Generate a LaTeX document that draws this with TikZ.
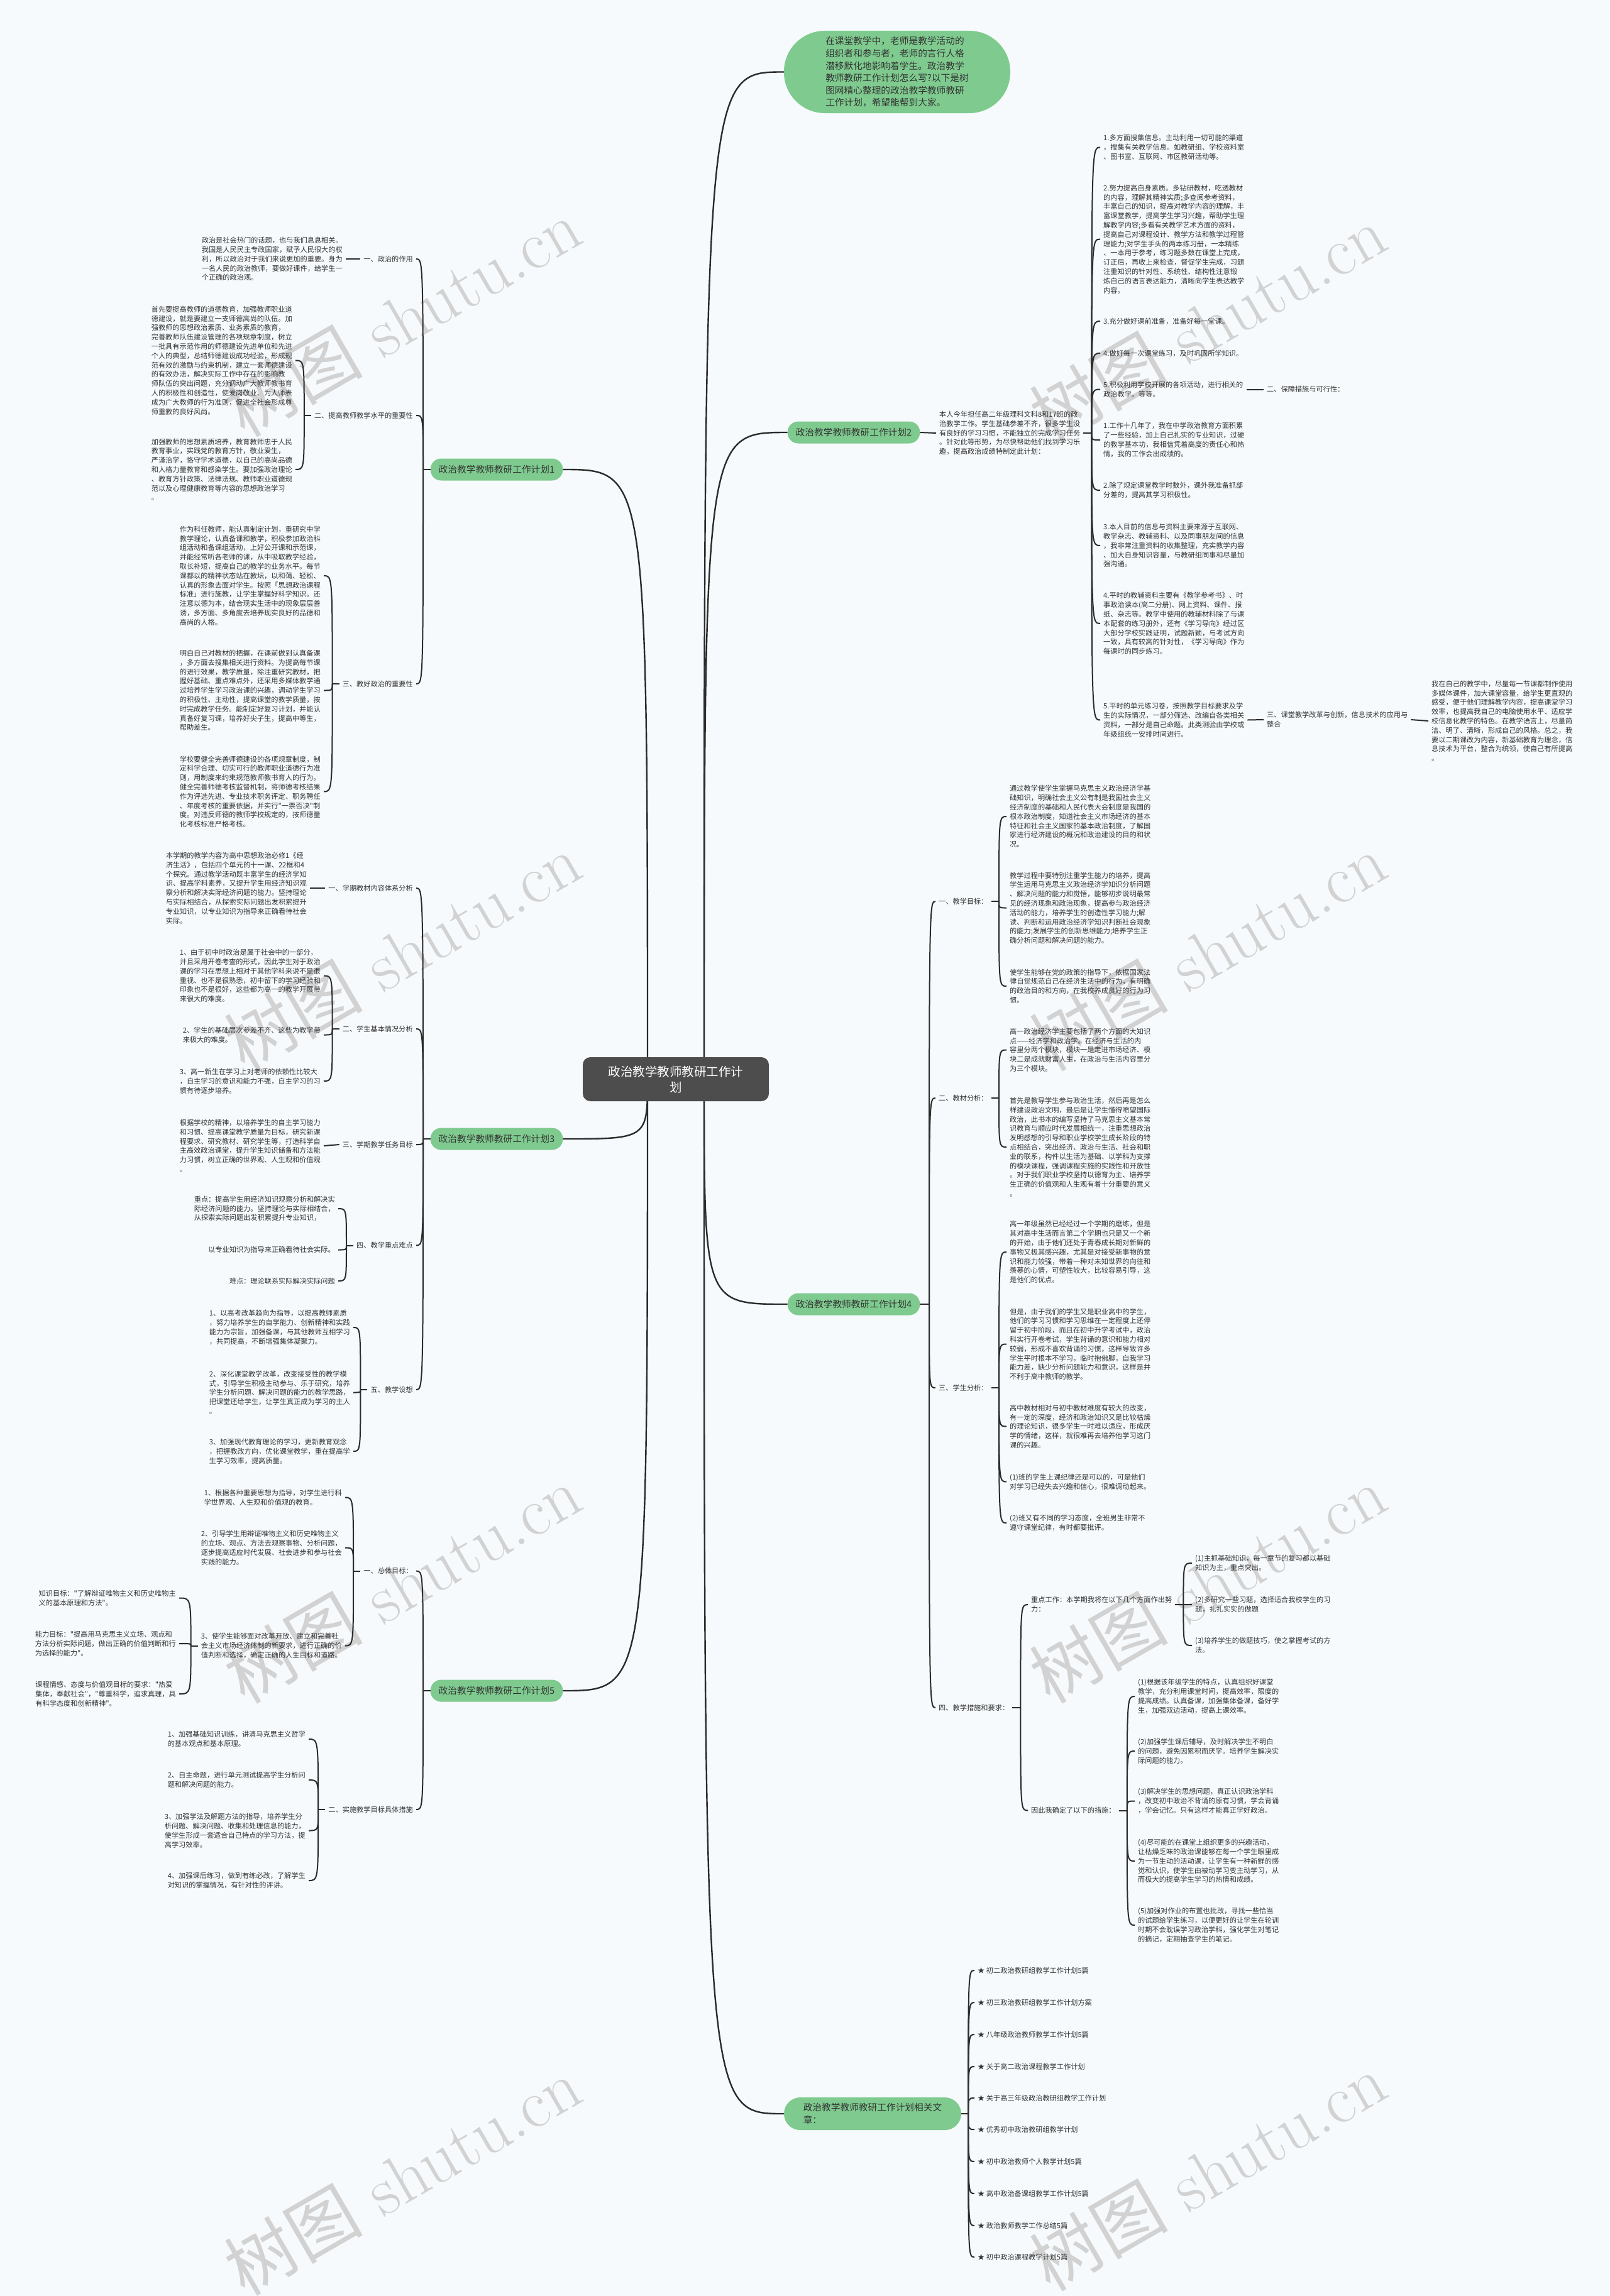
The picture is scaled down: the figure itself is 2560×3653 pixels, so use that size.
\documentclass[tikz,border=0pt]{standalone}
\usepackage{fontspec}
\newfontfamily\cjk{Noto Sans CJK SC}
\usetikzlibrary{calc}
\definecolor{bg}{HTML}{F6FAFD}
\definecolor{gr}{HTML}{7FCB8F}
\definecolor{lc}{HTML}{2B2B2B}
\definecolor{tc}{HTML}{333333}
\definecolor{rootc}{HTML}{4D4D4D}
\definecolor{wm}{HTML}{D2D2D2}
\begin{document}
\begin{tikzpicture}[x=1pt,y=-1pt,
  ln/.style={draw=lc,line width=2pt},
  rl/.style={draw=lc,line width=2.4pt},
  tx/.style={font=\cjk\fontsize{11.2}{14.8}\selectfont,text=tc,align=left,inner xsep=5pt,inner ysep=1pt},
  pl/.style={fill=gr,rounded corners=17pt,font=\cjk\fontsize{14.7}{19}\selectfont,text=tc,inner xsep=13pt,minimum height=35pt},
  wmk/.style={rotate=30,text=wm,font=\fontsize{110}{110}\selectfont}]
\useasboundingbox (0,0) rectangle (2560,3653);
\fill[bg] (0,0) rectangle (2560,3653);
% watermarks
\node[wmk] (wm1) at (640,505) {{\cjk 树图} shutu.cn};
\node[wmk] (wm2) at (1921,515) {{\cjk 树图} shutu.cn};
\node[wmk] (wm3) at (640,1514) {{\cjk 树图} shutu.cn};
\node[wmk] (wm4) at (1921,1514) {{\cjk 树图} shutu.cn};
\node[wmk] (wm5) at (640,2520) {{\cjk 树图} shutu.cn};
\node[wmk] (wm6) at (1921,2520) {{\cjk 树图} shutu.cn};
\node[wmk] (wm7) at (640,3462) {{\cjk 树图} shutu.cn};
\node[wmk] (wm8) at (1921,3455) {{\cjk 树图} shutu.cn};

% ---------- main branches ----------
\node[fill=gr,rounded corners=65pt,minimum width=360pt,minimum height=131pt,font=\cjk\fontsize{14.7}{19.6}\selectfont,align=left,text=tc] (b0) at (1427,114.5) {在课堂教学中，老师是教学活动的\\组织者和参与者，老师的言行人格\\潜移默化地影响着学生。政治教学\\教师教研工作计划怎么写?以下是树\\图网精心整理的政治教学教师教研\\工作计划，希望能帮到大家。};
\node[pl] (p1) at (790,747) {政治教学教师教研工作计划1};
\node[pl] (p3) at (790,1812) {政治教学教师教研工作计划3};
\node[pl] (p5) at (790,2690) {政治教学教师教研工作计划5};
\node[pl] (p2) at (1358,688) {政治教学教师教研工作计划2};
\node[pl] (p4) at (1358,2075) {政治教学教师教研工作计划4};
\node[fill=gr,rounded corners=26pt,minimum width=282pt,minimum height=52pt,font=\cjk\fontsize{14.7}{20}\selectfont,align=left,text=tc] (a0) at (1388,3363) {政治教学教师教研工作计划相关文\\章：};

\coordinate (RR) at (1120,1717);
\coordinate (RL) at (1030,1717);
\foreach \c in {b0,p2,p4,a0} \draw[rl] (RR) .. controls (RR |- \c.west) .. (\c.west);
\foreach \c in {p1,p3,p5} \draw[rl] (RL) .. controls (RL |- \c.east) .. (\c.east);
\node[fill=rootc,rounded corners=12pt,minimum width=296pt,minimum height=70pt,text=white,align=center,font=\cjk\fontsize{19.5}{25}\selectfont] (r) at (1075,1717) {政治教学教师教研工作计\\划};

% ---------- plan 1 ----------
\coordinate (J1) at (673,747);
\draw[ln] (p1.west) -- (J1);
\node[tx,anchor=east] (l11) at (662,412) {一、政治的作用};
\node[tx,anchor=east] (l12) at (662,661) {二、提高教师教学水平的重要性};
\node[tx,anchor=east] (l13) at (662,1088) {三、教好政治的重要性};
\foreach \c in {l11,l12,l13} \draw[ln] (J1) .. controls (J1 |- \c.east) .. (\c.east);

\node[tx,anchor=east] (q11) at (550,412) {政治是社会热门的话题，也与我们息息相关。\\我国是人民民主专政国家，赋予人民很大的权\\利，所以政治对于我们来说更加的重要。身为\\一名人民的政治教师，要做好课件，给学生一\\个正确的政治观。};
\draw[ln] (l11.west) -- (q11.east);

\node[tx,anchor=east] (q121) at (470,573.5) {首先要提高教师的道德教育，加强教师职业道\\德建设，就是要建立一支师德高尚的队伍。加\\强教师的思想政治素质、业务素质的教育，\\完善教师队伍建设管理的各项规章制度，树立\\一批具有示范作用的师德建设先进单位和先进\\个人的典型，总结师德建设成功经验，形成规\\范有效的激励与约束机制，建立一套师德建设\\的有效办法，解决实际工作中存在的影响教\\师队伍的突出问题，充分调动广大教师教书育\\人的积极性和创造性，使爱岗敬业、为人师表\\成为广大教师的行为准则，促进全社会形成尊\\师重教的良好风尚。};
\node[tx,anchor=east] (q122) at (470,747) {加强教师的思想素质培养，教育教师忠于人民\\教育事业，实践党的教育方针，敬业爱生，\\严谨治学，恪守学术道德，以自己的高尚品德\\和人格力量教育和感染学生。要加强政治理论\\、教育方针政策、法律法规、教师职业道德规\\范以及心理健康教育等内容的思想政治学习\\。};
\coordinate (J12) at ($(l12.west)+(-11,0)$);
\draw[ln] (l12.west) -- (J12);
\foreach \c in {q121,q122} \draw[ln] (J12) .. controls (J12 |- \c.east) .. (\c.east);

\node[tx,anchor=east] (q131) at (515,916) {作为科任教师，能认真制定计划，重研究中学\\教学理论，认真备课和教学，积极参加政治科\\组活动和备课组活动，上好公开课和示范课，\\并能经常听各老师的课，从中吸取教学经验，\\取长补短，提高自己的教学的业务水平。每节\\课都以的精神状态站在教坛，以和蔼、轻松、\\认真的形象去面对学生。按照「思想政治课程\\标准」进行施教，让学生掌握好科学知识。还\\注意以德为本，结合现实生活中的现象层层善\\诱，多方面、多角度去培养现实良好的品德和\\高尚的人格。};
\node[tx,anchor=east] (q132) at (515,1098.5) {明白自己对教材的把握，在课前做到认真备课\\，多方面去搜集相关进行资料。为提高每节课\\的进行效果，教学质量，除注重研究教材，把\\握好基础、重点难点外，还采用多媒体教学通\\过培养学生学习政治课的兴趣，调动学生学习\\的积极性、主动性，提高课堂的教学质量，按\\时完成教学任务。能制定好复习计划，并能认\\真备好复习课，培养好尖子生，提高中等生，\\帮助差生。};
\node[tx,anchor=east] (q133) at (515,1259.5) {学校要健全完善师德建设的各项规章制度，制\\定科学合理、切实可行的教师职业道德行为准\\则，用制度来约束规范教师教书育人的行为。\\健全完善师德考核监督机制，将师德考核结果\\作为评选先进、专业技术职务评定、职务聘任\\、年度考核的重要依据，并实行"一票否决"制\\度。对违反师德的教师学校规定的，按师德量\\化考核标准严格考核。};
\coordinate (J13) at ($(l13.west)+(-11,0)$);
\draw[ln] (l13.west) -- (J13);
\foreach \c in {q131,q132,q133} \draw[ln] (J13) .. controls (J13 |- \c.east) .. (\c.east);

% ---------- plan 3 ----------
\coordinate (J3) at (673,1812);
\draw[ln] (p3.west) -- (J3);
\node[tx,anchor=east] (l31) at (662,1413) {一、学期教材内容体系分析};
\node[tx,anchor=east] (l32) at (662,1637) {二、学生基本情况分析};
\node[tx,anchor=east] (l33) at (662,1821) {三、学期教学任务目标};
\node[tx,anchor=east] (l34) at (662,1981.5) {四、教学重点难点};
\node[tx,anchor=east] (l35) at (662,2211) {五、教学设想};
\foreach \c in {l31,l32,l33,l34,l35} \draw[ln] (J3) .. controls (J3 |- \c.east) .. (\c.east);

\node[tx,anchor=east] (q31) at (493,1413) {本学期的教学内容为高中思想政治必修1《经\\济生活》，包括四个单元的十一课、22框和4\\个探究。通过教学活动既丰富学生的经济学知\\识、提高学科素养，又提升学生用经济知识观\\察分析和解决实际经济问题的能力。坚持理论\\与实际相结合，从探索实际问题出发积累提升\\专业知识，以专业知识为指导来正确看待社会\\实际。};
\draw[ln] (l31.west) -- (q31.east);

\node[tx,anchor=east] (q321) at (515,1552.5) {1、由于初中时政治是属于社会中的一部分，\\并且采用开卷考查的形式，因此学生对于政治\\课的学习在思想上相对于其他学科来说不是很\\重视、也不是很熟悉，初中留下的学习经验和\\印象也不是很好，这些都为高一的教学开展带\\来很大的难度。};
\node[tx,anchor=east] (q322) at (515,1646.5) {2、学生的基础层次参差不齐、这些为教学带\\来极大的难度。};
\node[tx,anchor=east] (q323) at (515,1720) {3、高一新生在学习上对老师的依赖性比较大\\，自主学习的意识和能力不强，自主学习的习\\惯有待逐步培养。};
\coordinate (J32) at ($(l32.west)+(-11,0)$);
\draw[ln] (l32.west) -- (J32);
\foreach \c in {q321,q322,q323} \draw[ln] (J32) .. controls (J32 |- \c.east) .. (\c.east);

\node[tx,anchor=east] (q33) at (515,1823) {根据学校的精神，以培养学生的自主学习能力\\和习惯、提高课堂教学质量为目标，研究新课\\程要求、研究教材、研究学生等，打造科学自\\主高效政治课堂，提升学生知识储备和方法能\\力习惯，树立正确的世界观、人生观和价值观\\。};
\draw[ln] (l33.west) -- (q33.east);

\node[tx,anchor=east] (q341) at (538,1923) {重点：提高学生用经济知识观察分析和解决实\\际经济问题的能力。坚持理论与实际相结合，\\从探索实际问题出发积累提升专业知识，};
\node[tx,anchor=east] (q342) at (538,1988.5) {以专业知识为指导来正确看待社会实际。};
\node[tx,anchor=east] (q343) at (538,2038) {难点：理论联系实际解决实际问题};
\coordinate (J34) at ($(l34.west)+(-11,0)$);
\draw[ln] (l34.west) -- (J34);
\foreach \c in {q341,q342,q343} \draw[ln] (J34) .. controls (J34 |- \c.east) .. (\c.east);

\node[tx,anchor=east] (q351) at (562,2112) {1、以高考改革趋向为指导，以提高教师素质\\，努力培养学生的自学能力、创新精神和实践\\能力为宗旨，加强备课，与其他教师互相学习\\，共同提高，不断增强集体凝聚力。};
\node[tx,anchor=east] (q352) at (562,2215.5) {2、深化课堂教学改革，改变接受性的教学模\\式，引导学生积极主动参与、乐于研究，培养\\学生分析问题、解决问题的能力的教学思路，\\把课堂还给学生，让学生真正成为学习的主人\\。};
\node[tx,anchor=east] (q353) at (562,2309) {3、加强现代教育理论的学习，更新教育观念\\，把握教改方向，优化课堂教学，重在提高学\\生学习效率，提高质量。};
\coordinate (J35) at ($(l35.west)+(-11,0)$);
\draw[ln] (l35.west) -- (J35);
\foreach \c in {q351,q352,q353} \draw[ln] (J35) .. controls (J35 |- \c.east) .. (\c.east);

% ---------- plan 5 ----------
\coordinate (J5) at (673,2690);
\draw[ln] (p5.west) -- (J5);
\node[tx,anchor=east] (l51) at (662,2499.5) {一、总体目标：};
\node[tx,anchor=east] (l52) at (662,2879) {二、实施教学目标具体措施};
\foreach \c in {l51,l52} \draw[ln] (J5) .. controls (J5 |- \c.east) .. (\c.east);

\node[tx,anchor=east] (c1) at (549,2382.5) {1、根据各种重要思想为指导，对学生进行科\\学世界观、人生观和价值观的教育。};
\node[tx,anchor=east] (c2) at (549,2462.5) {2、引导学生用辩证唯物主义和历史唯物主义\\的立场、观点、方法去观察事物、分析问题，\\逐步提高适应时代发展、社会进步和参与社会\\实践的能力。};
\node[tx,anchor=east] (c3) at (549,2618.5) {3、使学生能够面对改革开放、建立和完善社\\会主义市场经济体制的新要求，进行正确的价\\值判断和选择，确定正确的人生目标和道路。};
\coordinate (J51) at ($(l51.west)+(-11,0)$);
\draw[ln] (l51.west) -- (J51);
\foreach \c in {c1,c2,c3} \draw[ln] (J51) .. controls (J51 |- \c.east) .. (\c.east);

\node[tx,anchor=east] (k1) at (285,2542.5) {知识目标："了解辩证唯物主义和历史唯物主\\义的基本原理和方法"。};
\node[tx,anchor=east] (k2) at (285,2615) {能力目标："提高用马克思主义立场、观点和\\方法分析实际问题，做出正确的价值判断和行\\为选择的能力"。};
\node[tx,anchor=east] (k3) at (285,2695) {课程情感、态度与价值观目标的要求："热爱\\集体，奉献社会"，"尊重科学，追求真理，具\\有科学态度和创新精神"。};
\coordinate (J53) at ($(c3.west)+(-11,0)$);
\draw[ln] (c3.west) -- (J53);
\foreach \c in {k1,k2,k3} \draw[ln] (J53) .. controls (J53 |- \c.east) .. (\c.east);

\node[tx,anchor=east] (n1) at (491,2767) {1、加强基础知识训练，讲清马克思主义哲学\\的基本观点和基本原理。};
\node[tx,anchor=east] (n2) at (491,2832) {2、自主命题，进行单元测试提高学生分析问\\题和解决问题的能力。};
\node[tx,anchor=east] (n3) at (491,2912.5) {3、加强学法及解题方法的指导，培养学生分\\析问题、解决问题、收集和处理信息的能力，\\使学生形成一套适合自己特点的学习方法，提\\高学习效率。};
\node[tx,anchor=east] (n4) at (491,2992) {4、加强课后练习，做到有练必改，了解学生\\对知识的掌握情况，有针对性的评讲。};
\coordinate (J52) at ($(l52.west)+(-11,0)$);
\draw[ln] (l52.west) -- (J52);
\foreach \c in {n1,n2,n3,n4} \draw[ln] (J52) .. controls (J52 |- \c.east) .. (\c.east);

% ---------- plan 2 ----------
\node[tx,anchor=west] (q2) at (1489,689) {本人今年担任高二年级理科文科8和17班的政\\治教学工作。学生基础参差不齐，很多学生没\\有良好的学习习惯，不能独立的完成学习任务\\。针对此等形势，为尽快帮助他们找到学习乐\\趣，提高政治成绩特制定此计划：};
\draw[ln] (p2.east) -- (q2.west);
\coordinate (J2) at ($(q2.east)+(13,0)$);
\draw[ln] (q2.east) -- (J2);
\node[tx,anchor=west] (a1) at (1750,234.5) {1.多方面搜集信息。主动利用一切可能的渠道\\，搜集有关教学信息。如教研组、学校资料室\\、图书室、互联网、市区教研活动等。};
\node[tx,anchor=west] (a2) at (1750,380.5) {2.努力提高自身素质。多钻研教材，吃透教材\\的内容，理解其精神实质;多查阅参考资料，\\丰富自己的知识，提高对教学内容的理解，丰\\富课堂教学，提高学生学习兴趣，帮助学生理\\解教学内容;多看有关教学艺术方面的资料，\\提高自己对课程设计、教学方法和教学过程管\\理能力;对学生手头的两本练习册，一本精练\\、一本用于参考，练习题多数在课堂上完成，\\订正后，再收上来检查，督促学生完成，习题\\注重知识的针对性、系统性、结构性注意锻\\炼自己的语言表达能力，清晰向学生表达教学\\内容。};
\node[tx,anchor=west] (a3) at (1750,511) {3.充分做好课前准备，准备好每一堂课。};
\node[tx,anchor=west] (a4) at (1750,562) {4.做好每一次课堂练习，及时巩固所学知识。};
\node[tx,anchor=west] (a5) at (1750,619.5) {5.积极利用学校开展的各项活动，进行相关的\\政治教学。等等。};
\node[tx,anchor=west] (b1) at (1750,700) {1.工作十几年了，我在中学政治教育方面积累\\了一些经验，加上自己扎实的专业知识，过硬\\的教学基本功，我相信凭着高度的责任心和热\\情，我的工作会出成绩的。};
\node[tx,anchor=west] (b2) at (1750,780) {2.除了规定课堂教学时数外，课外我准备抓部\\分差的，提高其学习积极性。};
\node[tx,anchor=west] (b3) at (1750,868) {3.本人目前的信息与资料主要来源于互联网、\\教学杂志、教辅资料、以及同事朋友间的信息\\，我非常注重资料的收集整理，充实教学内容\\、加大自身知识容量，与教研组同事和尽量加\\强沟通。};
\node[tx,anchor=west] (b4) at (1750,992) {4.平时的教辅资料主要有《教学参考书》、时\\事政治读本(高二分册)、网上资料、课件、报\\纸、杂志等。教学中使用的教辅材料除了与课\\本配套的练习册外，还有《学习导向》经过区\\大部分学校实践证明，试题新颖，与考试方向\\一致，具有较高的针对性，《学习导向》作为\\每课时的同步练习。};
\node[tx,anchor=west] (b5) at (1750,1145.5) {5.平时的单元练习卷，按照教学目标要求及学\\生的实际情况，一部分筛选、改编自各类相关\\资料，一部分是自己命题。此类测验由学校或\\年级组统一安排时间进行。};
\foreach \c in {a1,a2,a3,a4,a5,b1,b2,b3,b4,b5} \draw[ln] (J2) .. controls (J2 |- \c.west) .. (\c.west);
\node[tx,anchor=west] (g2) at (2010,619.5) {二、保障措施与可行性：};
\draw[ln] (a5.east) -- (g2.west);
\node[tx,anchor=west] (h2) at (2010,1145) {三、课堂教学改革与创新，信息技术的应用与\\整合};
\draw[ln] (b5.east) -- (h2.west);
\node[tx,anchor=west] (r2) at (2272,1147) {我在自己的教学中，尽量每一节课都制作使用\\多媒体课件，加大课堂容量，给学生更直观的\\感受，便于他们理解教学内容，提高课堂学习\\效率，也提高我自己的电脑使用水平、适应学\\校信息化教学的特色。在教学语言上，尽量简\\洁、明了、清晰，形成自己的风格。总之，我\\要以二期课改为内容，新基础教育为理念，信\\息技术为平台，整合为统领，使自己有所提高\\。};
\draw[ln] (h2.east) -- (r2.west);

% ---------- plan 4 ----------
\coordinate (J4) at (1478,2075);
\draw[ln] (p4.east) -- (J4);
\node[tx,anchor=west] (m1) at (1488,1434) {一、教学目标：};
\node[tx,anchor=west] (m2) at (1488,1747) {二、教材分析：};
\node[tx,anchor=west] (m3) at (1488,2208) {三、学生分析：};
\node[tx,anchor=west] (m4) at (1488,2717) {四、教学措施和要求：};
\foreach \c in {m1,m2,m3,m4} \draw[ln] (J4) .. controls (J4 |- \c.west) .. (\c.west);

\node[tx,anchor=west] (t1) at (1601,1299) {通过教学使学生掌握马克思主义政治经济学基\\础知识，明确社会主义公有制是我国社会主义\\经济制度的基础和人民代表大会制度是我国的\\根本政治制度，知道社会主义市场经济的基本\\特征和社会主义国家的基本政治制度，了解国\\家进行经济建设的概况和政治建设的目的和状\\况。};
\node[tx,anchor=west] (t2) at (1601,1444.5) {教学过程中要特别注重学生能力的培养，提高\\学生运用马克思主义政治经济学知识分析问题\\、解决问题的能力和觉悟，能够初步说明最常\\见的经济现象和政治现象，提高参与政治经济\\活动的能力，培养学生的创造性学习能力;解\\读、判断和运用政治经济学知识判断社会现象\\的能力;发展学生的创新思维能力;培养学生正\\确分析问题和解决问题的能力。};
\node[tx,anchor=west] (t3) at (1601,1569) {使学生能够在党的政策的指导下，依据国家法\\律自觉规范自己在经济生活中的行为，有明确\\的政治目的和方向，在我校养成良好的行为习\\惯。};
\coordinate (J41) at (1589,1434);
\draw[ln] (m1.east) -- (J41);
\foreach \c in {t1,t2,t3} \draw[ln] (J41) .. controls (J41 |- \c.west) .. (\c.west);

\node[tx,anchor=west] (u1) at (1601,1670.5) {高一政治经济学主要包括了两个方面的大知识\\点——经济学和政治学。在经济与生活的内\\容里分两个模块，模块一是走进市场经济、模\\块二是成就财富人生，在政治与生活内容里分\\为三个模块。};
\node[tx,anchor=west] (u2) at (1601,1825) {首先是教导学生参与政治生活，然后再是怎么\\样建设政治文明，最后是让学生懂得喷望国际\\政治，此书本的编写坚持了马克思主义基本常\\识教育与顺应时代发展相统一，注重思想政治\\发明感想的引导和职业学校学生成长阶段的特\\点相结合，突出经济、政治与生活、社会和职\\业的联系，构件以生活为基础、以学科为支撑\\的模块课程，强调课程实施的实践性和开放性\\。对于我们职业学校坚持以德育为主、培养学\\生正确的价值观和人生观有着十分重要的意义\\。};
\coordinate (J42) at (1589,1747);
\draw[ln] (m2.east) -- (J42);
\foreach \c in {u1,u2} \draw[ln] (J42) .. controls (J42 |- \c.west) .. (\c.west);

\node[tx,anchor=west] (s1) at (1601,1992) {高一年级虽然已经经过一个学期的磨练，但是\\其对高中生活而言第二个学期也只是又一个新\\的开始，由于他们还处于青春成长期对新鲜的\\事物又极其感兴趣，尤其是对接受新事物的意\\识和能力较强，带着一种对未知世界的向往和\\羡慕的心情，可塑性较大，比较容易引导，这\\是他们的优点。};
\node[tx,anchor=west] (s2) at (1601,2138.5) {但是，由于我们的学生又是职业高中的学生，\\他们的学习习惯和学习思维在一定程度上还停\\留于初中阶段，而且在初中升学考试中，政治\\科实行开卷考试，学生背诵的意识和能力相对\\较弱，形成不喜欢背诵的习惯，这样导致许多\\学生平时根本不学习，临时抱佛脚，自我学习\\能力差，缺少分析问题能力和意识，这样是并\\不利于高中教师的教学。};
\node[tx,anchor=west] (s3) at (1601,2269.5) {高中教材相对与初中教材难度有较大的改变，\\有一定的深度，经济和政治知识又是比较枯燥\\的理论知识，很多学生一时难以适应，形成厌\\学的情绪，这样，就很难再去培养他学习这门\\课的兴趣。};
\node[tx,anchor=west] (s4) at (1601,2357.5) {(1)班的学生上课纪律还是可以的，可是他们\\对学习已经失去兴趣和信心，很难调动起来。};
\node[tx,anchor=west] (s5) at (1601,2423) {(2)班又有不同的学习态度，全班男生非常不\\遵守课堂纪律，有时都要批评。};
\coordinate (J43) at (1589,2208);
\draw[ln] (m3.east) -- (J43);
\foreach \c in {s1,s2,s3,s4,s5} \draw[ln] (J43) .. controls (J43 |- \c.west) .. (\c.west);

\node[tx,anchor=west] (v1) at (1635,2553) {重点工作：本学期我将在以下几个方面作出努\\力：};
\node[tx,anchor=west] (v2) at (1635,2880.5) {因此我确定了以下的措施：};
\coordinate (J44) at ($(m4.east)+(13,0)$);
\draw[ln] (m4.east) -- (J44);
\foreach \c in {v1,v2} \draw[ln] (J44) .. controls (J44 |- \c.west) .. (\c.west);

\node[tx,anchor=west] (w1) at (1896,2487) {(1)主抓基础知识，每一章节的复习都以基础\\知识为主，重点突出。};
\node[tx,anchor=west] (w2) at (1896,2553) {(2)多研究一些习题，选择适合我校学生的习\\题，扎扎实实的做题};
\node[tx,anchor=west] (w3) at (1896,2618) {(3)培养学生的做题技巧，使之掌握考试的方\\法。};
\coordinate (J45) at ($(v1.east)+(13,0)$);
\draw[ln] (v1.east) -- (J45);
\foreach \c in {w1,w2,w3} \draw[ln] (J45) .. controls (J45 |- \c.west) .. (\c.west);

\node[tx,anchor=west] (x1) at (1805,2699) {(1)根据该年级学生的特点，认真组织好课堂\\教学，充分利用课堂时间，提高效率，限度的\\提高成绩。认真备课，加强集体备课，备好学\\生，加强双边活动，提高上课效率。};
\node[tx,anchor=west] (x2) at (1805,2786) {(2)加强学生课后辅导，及时解决学生不明白\\的问题，避免因累积而厌学。培养学生解决实\\际问题的能力。};
\node[tx,anchor=west] (x3) at (1805,2865.5) {(3)解决学生的思想问题，真正认识政治学科\\，改变初中政治不背诵的原有习惯，学会背诵\\，学会记忆。只有这样才能真正学好政治。};
\node[tx,anchor=west] (x4) at (1805,2961) {(4)尽可能的在课堂上组织更多的兴趣活动，\\让枯燥乏味的政治课能够在每一个学生眼里成\\为一节生动的活动课，让学生有一种新鲜的感\\觉和认识，使学生由被动学习变主动学习，从\\而极大的提高学生学习的热情和成绩。};
\node[tx,anchor=west] (x5) at (1805,3063) {(5)加强对作业的布置也批改，寻找一些恰当\\的试题给学生练习，以便更好的让学生在轮训\\时期不会耽误学习政治学科，强化学生对笔记\\的摘记，定期抽查学生的笔记。};
\coordinate (J46) at ($(v2.east)+(13,0)$);
\draw[ln] (v2.east) -- (J46);
\foreach \c in {x1,x2,x3,x4,x5} \draw[ln] (J46) .. controls (J46 |- \c.west) .. (\c.west);

% ---------- related articles ----------
\coordinate (J0) at ($(a0.east)+(11,0)$);
\draw[ln] (a0.east) -- (J0);
\node[tx,anchor=west] (e1) at (1550,3135) {★ 初二政治教研组教学工作计划5篇};
\node[tx,anchor=west] (e2) at (1550,3186) {★ 初三政治教研组教学工作计划方案};
\node[tx,anchor=west] (e3) at (1550,3237) {★ 八年级政治教师教学工作计划5篇};
\node[tx,anchor=west] (e4) at (1550,3288) {★ 关于高二政治课程教学工作计划};
\node[tx,anchor=west] (e5) at (1550,3338) {★ 关于高三年级政治教研组教学工作计划};
\node[tx,anchor=west] (e6) at (1550,3388) {★ 优秀初中政治教研组教学计划};
\node[tx,anchor=west] (e7) at (1550,3439) {★ 初中政治教师个人教学计划5篇};
\node[tx,anchor=west] (e8) at (1550,3490) {★ 高中政治备课组教学工作计划5篇};
\node[tx,anchor=west] (e9) at (1550,3541) {★ 政治教师教学工作总结5篇};
\node[tx,anchor=west] (e10) at (1550,3591) {★ 初中政治课程教学计划5篇};
\foreach \c in {e1,e2,e3,e4,e5,e6,e7,e8,e9,e10} \draw[ln] (J0) .. controls (J0 |- \c.west) .. (\c.west);
\end{tikzpicture}
\end{document}
